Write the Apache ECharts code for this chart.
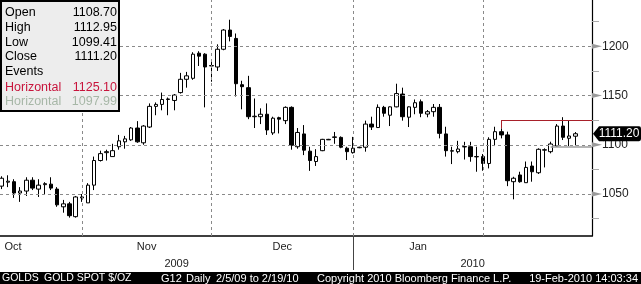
<!DOCTYPE html>
<html><head><meta charset="utf-8">
<script src="https://cdn.jsdelivr.net/npm/echarts@6/dist/echarts.min.js"></script>
<style>html,body{margin:0;padding:0;background:#fff;}#c{width:641px;height:284px;}</style>
</head><body><div id="c"></div>
<script>
// Daily gold spot candles, mid-Oct 2009 .. 19-Feb-2010 (index = trading day)
const open  = [1058,1062,1062.5,1051,1053,1064,1055,1059.5,1060,1055,1037,1040,1027,1046,1041,1059,1084,1092,1088,1098,1103,1105,1117,1102,1118,1139,1141,1146,1145,1153,1166.5,1167.5,1193,1192,1180,1179,1197,1216.5,1208,1161,1158,1128.5,1128.5,1131,1112,1127.5,1124.5,1138,1098,1111,1093.5,1083,1094,1105,1107.5,1107.5,1096.5,1092,1097,1097.5,1121,1117.5,1138,1130,1138.5,1151.5,1128,1138,1143.7,1131.2,1133.6,1138,1111,1093.5,1093,1097.8,1098,1087.7,1088,1081,1105.5,1113.3,1110,1062.5,1069.3,1061.5,1078.4,1071.6,1094.5,1093,1098.7,1119,1106.6,1108.70];
const high  = [1068,1069,1065,1057,1067,1067,1065,1062,1067,1057,1044,1042,1048,1050,1061,1088,1094,1095,1101,1110,1109,1118,1124,1120,1142,1143,1153,1148,1151.5,1173,1174,1194,1195,1193,1184,1202,1217.5,1227,1213,1165,1170,1147,1137,1142,1128.5,1128.5,1139,1139,1117,1120,1098,1095.5,1106,1106,1113,1108.5,1098,1108,1098,1124.5,1128.5,1141,1139.5,1139,1162,1158,1139,1146,1146,1135.3,1141.4,1141.4,1118.3,1098,1104,1103,1103,1098,1090.6,1107.6,1118.3,1116.7,1113.3,1067.5,1072.6,1083,1083,1096.4,1096.4,1103.1,1121,1128,1124.4,1112.95];
const low   = [1055,1057,1046,1042,1048,1054,1047,1049,1054,1037,1031,1026,1026,1042,1041,1054,1083,1084,1088,1095,1096,1104,1102,1100,1117,1130,1135,1130,1135,1152,1158,1166,1180,1138,1164,1175,1196,1205,1149,1136,1126,1117,1121,1110,1110,1111.5,1121,1095,1096,1089.5,1073.5,1078.5,1093.5,1105,1101,1096.5,1084.5,1091,1096.5,1093,1115,1117,1128.5,1119,1138,1124.5,1118,1131,1128,1127.9,1128.5,1106.5,1088,1080.4,1091.3,1085,1082.8,1072.6,1073.6,1076,1098.7,1106.5,1058,1044.6,1061.5,1061.5,1062.5,1070.3,1077,1091.3,1098,1104.8,1098.7,1099.41];
const close = [1066,1063,1051,1053,1064,1056,1059,1060.5,1056,1039,1040,1028,1047,1047,1059,1084,1091,1093,1094,1104,1106,1117,1103,1119,1139,1141,1146,1146.5,1150.5,1166.5,1170,1192,1190,1179,1180.5,1197,1216.5,1210,1162,1159,1128.5,1129,1131,1115,1127,1126,1138,1099.5,1112.5,1094.5,1084,1088,1105.5,1105.5,1108,1097.5,1093,1096.5,1097.5,1121,1118,1138,1132,1138.5,1152,1128.5,1138.5,1142.7,1132,1133.6,1138,1111.6,1094,1094,1095.7,1098.2,1088,1088.1,1081,1105.5,1113.3,1110,1063.5,1066,1062.5,1077,1072.6,1095.4,1095,1100.8,1119,1107.6,1108.9,1111.20];

const monthStarts = [13, 34, 57, 78];          // first trading day of Nov, Dec, Jan, Feb
const monthLabels = ['Oct', 'Nov', 'Dec', 'Jan'];
const yearLabels  = ['2009', '2010'];
const yearStartIdx = 57;
const yTickValues  = [1050, 1100, 1150, 1200];
const yMinorValues = [1025, 1075, 1125, 1175, 1225];
const hRed  = {value: 1125.10, from: 81};
const hGray = {value: 1097.99, from: 89};
const footerTexts = ['GOLDS', 'GOLD SPOT $/OZ', 'G12', 'Daily', '2/5/09 to 2/19/10', 'Copyright 2010 Bloomberg Finance L.P.', '19-Feb-2010 14:03:34'];

const X_MIN = -0.27, X_MAX = 95.71;
const Y_MIN = 1007.35, Y_MAX = 1247.02;
const n = close.length;
const last = n - 1;

const monthLabelPos = [1.85, (monthStarts[0]+monthStarts[1])/2, (monthStarts[1]+monthStarts[2])/2, (monthStarts[2]+monthStarts[3])/2];
const yearLabelPos = [(X_MIN + yearStartIdx)/2, (yearStartIdx + X_MAX)/2];

const legendRows = [
  ['Open', open[last].toFixed(2), '#000'],
  ['High', high[last].toFixed(2), '#000'],
  ['Low', low[last].toFixed(2), '#000'],
  ['Close', close[last].toFixed(2), '#000'],
  ['Events', '', '#000'],
  ['Horizontal', hRed.value.toFixed(2), '#c8143c'],
  ['Horizontal', hGray.value.toFixed(2), '#a7b7a7']
];

const FONT = '"Liberation Sans", Arial, sans-serif';
const chart = echarts.init(document.getElementById('c'), null, {renderer: 'canvas'});

const graphics = [];
// footer bar
graphics.push({type:'rect', shape:{x:0, y:272, width:641, height:12}, style:{fill:'#000'}, z:10});
const footerX = [2, 44, 161, 186, 216, 317, 638];
const footerSize = [10.5, 10.5, 11, 11, 11, 11, 11];
footerTexts.forEach((t, i) => {
  graphics.push({type:'text', x: footerX[i], y: 278.5, z: 11,
    style:{text:t, fill:'#fff', font: footerSize[i] + 'px ' + FONT, align: i === footerTexts.length-1 ? 'right' : 'left', verticalAlign:'middle'}});
});
// legend box
graphics.push({type:'rect', shape:{x:1, y:1, width:118, height:110}, style:{fill:'#ededed', stroke:'#000', lineWidth:2}, z:10});
const rowY = [12.5, 27.5, 42.5, 57, 72, 87.5, 102];
legendRows.forEach((r, i) => {
  graphics.push({type:'text', x:5, y:rowY[i], z:11, style:{text:r[0], fill:r[2], font:'12.5px ' + FONT, align:'left', verticalAlign:'middle'}});
  if (r[1]) graphics.push({type:'text', x:117, y:rowY[i], z:11, style:{text:r[1], fill:r[2], font:'12.5px ' + FONT, align:'right', verticalAlign:'middle'}});
});

const gridLineStyle = {color:'#8a8a8a', type:[3,3], width:1};

const option = {
  animation: false,
  backgroundColor: '#fff',
  grid: {left:0, right:49, top:0, bottom:48, containLabel:false},
  xAxis: [
    {type:'value', min:X_MIN, max:X_MAX, position:'bottom',
     axisLine:{show:true, onZero:false, lineStyle:{color:'#000', width:1.5}},
     axisTick:{show:true, customValues:[yearStartIdx], length:34, lineStyle:{color:'#444', width:1}},
     axisLabel:{customValues: monthLabelPos, formatter:(v)=>{const k = monthLabelPos.indexOf(v); return k >= 0 ? monthLabels[k] : '';},
       margin:5, fontSize:11, color:'#222', fontFamily: FONT},
     splitLine:{show:false}},
    {type:'value', min:X_MIN, max:X_MAX, position:'bottom',
     axisLine:{show:false, onZero:false}, axisTick:{show:false},
     axisLabel:{customValues: yearLabelPos, formatter:(v)=>{const k = yearLabelPos.indexOf(v); return k >= 0 ? yearLabels[k] : '';},
       margin:22, fontSize:11, color:'#222', fontFamily: FONT},
     splitLine:{show:false}}
  ],
  yAxis: {type:'value', position:'right', min:Y_MIN, max:Y_MAX,
    axisLine:{show:true, onZero:false, lineStyle:{color:'#000', width:1.2}},
    axisTick:{show:true, customValues: yMinorValues, length:7, lineStyle:{color:'#aaa'}},
    axisLabel:{customValues: yTickValues, formatter:(v)=>String(v), margin:10, fontSize:12, color:'#222', fontFamily:'"Liberation Sans Narrow", "Liberation Sans", Arial, sans-serif'},
    splitLine:{show:false}},
  series: [
    {type:'line', name:'grid', data:[], z:1, silent:true, xAxisIndex:0,
     markLine:{silent:true, symbol:['none','none'], label:{show:false}, lineStyle:gridLineStyle, animation:false,
       data: yTickValues.map(v => ({yAxis:v})).concat(monthStarts.map(m => ({xAxis:m})))}},
    {type:'candlestick', name:'GOLDS', xAxisIndex:0, z:2, barWidth:4,
     data: open.map((o, i) => [i, o, close[i], low[i], high[i]]),
     itemStyle:{color:'#fff', color0:'#000', borderColor:'#000', borderColor0:'#000', borderColorDoji:'#000', borderWidth:1},
     markLine:{silent:true, symbol:['none','none'], label:{show:false}, animation:false,
       data:[
         [{coord:[hRed.from, hRed.value], lineStyle:{color:'#a8202a', width:1, type:'solid'}}, {coord:[X_MAX, hRed.value]}],
         [{coord:[hRed.from, hRed.value], lineStyle:{color:'#a8202a', width:1, type:'solid'}}, {coord:[hRed.from, high[hRed.from]]}],
         [{coord:[hGray.from, hGray.value], lineStyle:{color:'#9c9c9c', width:1.5, type:'solid'}}, {coord:[X_MAX, hGray.value]}]
       ]},
     markPoint:{silent:true, animation:false,
       data: yTickValues.map(v => ({coord:[X_MAX, v], symbol:'triangle', symbolSize:[5,10], symbolRotate:-90, symbolOffset:[5,0],
                 itemStyle:{color:'#9a9a9a'}, label:{show:false}}))
         .concat([{coord:[X_MAX, close[last]], symbol:'path://M0,7 L6,0 L46,0 Q48,0 48,2 L48,12 Q48,14 46,14 L6,14 Z',
                 symbolSize:[48,15], symbolOffset:[25,0], itemStyle:{color:'#000'},
                 label:{show:true, position:'inside', offset:[2,0], formatter: close[last].toFixed(2), color:'#fff', fontSize:12, fontFamily: FONT}}])
     }}
  ],
  graphic: graphics
};
chart.setOption(option);
</script></body></html>
